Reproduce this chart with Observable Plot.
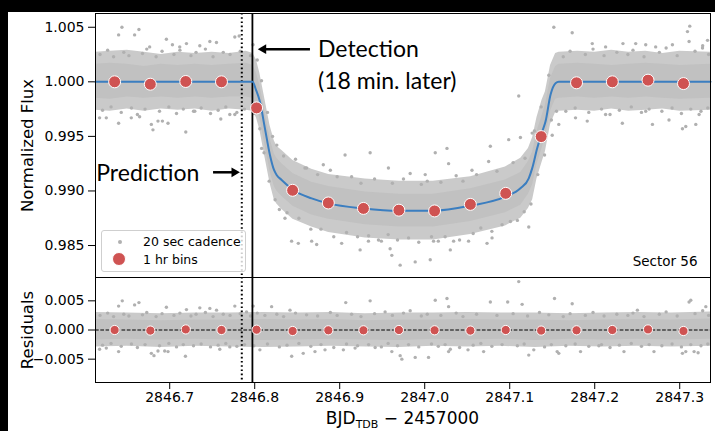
<!DOCTYPE html>
<html><head><meta charset="utf-8">
<script src="https://cdn.jsdelivr.net/npm/d3@7"></script>
<script src="https://cdn.jsdelivr.net/npm/@observablehq/plot@0.6"></script>
<style>
body{margin:0;background:#fff;}
#wrap{position:relative;width:715px;height:431px;overflow:hidden;background:#fff;font-family:"DejaVu Sans",sans-serif;color:#000;}
#wrap svg{position:absolute;left:0;overflow:visible;}
.bar-top{position:absolute;left:0;top:0;width:715px;height:12px;background:#000;z-index:5;}
.bar-left{position:absolute;left:0;top:0;width:8px;height:431px;background:#000;z-index:5;}
#xlabel{position:absolute;top:410px;left:95px;width:615px;text-align:center;font-size:17px;line-height:17px;white-space:nowrap;}
#xlabel span{font-size:11px;position:relative;top:4px;}
#legend{position:absolute;left:101px;top:230px;width:143px;height:40px;border:1px solid #cfcfcf;border-radius:3px;background:rgba(255,255,255,0.8);font-size:12.5px;z-index:3;}
#legend .m{position:absolute;border-radius:50%;}
#legend .t{position:absolute;left:41px;line-height:14px;white-space:nowrap;}
</style></head><body>
<div id="wrap">
  <div class="bar-top"></div><div class="bar-left"></div>
  <div id="xlabel">BJD<span>TDB</span> − 2457000</div>
  <div id="legend">
    <div class="m" style="left:16px;top:9px;width:4px;height:4px;background:#b0b0b0;"></div>
    <div class="t" style="top:4px;">20 sec cadence</div>
    <div class="m" style="left:11px;top:22px;width:12px;height:12px;background:#cf5352;border:1px solid #fff;margin:-1px;"></div>
    <div class="t" style="top:22px;">1 hr bins</div>
  </div>
</div>
<script>
// ---------- data ----------
const xTicks = [2846.7, 2846.8, 2846.9, 2847.0, 2847.1, 2847.2, 2847.3];
const fluxTicks = [0.985, 0.990, 0.995, 1.000, 1.005];
const residTicks = [-0.005, 0, 0.005];
const predictionTime = 2846.7848;
const detectionTime = 2846.7973;

// transit model (blue line)
const modelT = [2846.6127, 2846.7975, 2846.8014, 2846.8061, 2846.8120, 2846.8179, 2846.8226, 2846.8258, 2846.8317, 2846.8453, 2846.8670, 2846.8866, 2846.9279, 2846.9691, 2847.0104, 2847.0537, 2847.0949, 2847.1126, 2847.1224, 2847.1264, 2847.1323, 2847.1382, 2847.1421, 2847.1480, 2847.1539, 2847.1577, 2847.3362];
const modelF = [1.0, 1.0, 0.99929, 0.99819, 0.99574, 0.99330, 0.99195, 0.99147, 0.99101, 0.99009, 0.98932, 0.98886, 0.98840, 0.98819, 0.98819, 0.98865, 0.98948, 0.99024, 0.99116, 0.99207, 0.99391, 0.99544, 0.99636, 0.99881, 0.99987, 1.0, 1.0];

// 1 hr bins
const binT = [2846.6352, 2846.6772, 2846.7189, 2846.7609, 2846.8022, 2846.8446, 2846.8866, 2846.9279, 2846.9696, 2847.0116, 2847.0537, 2847.0953, 2847.1370, 2847.1786, 2847.2207, 2847.2627, 2847.3044];
const binF = [1.0000, 0.99978, 1.00003, 1.0000, 0.99761, 0.99006, 0.98890, 0.98840, 0.98824, 0.98817, 0.98877, 0.98978, 0.99498, 0.99991, 1.0000, 1.00015, 0.99984];
const binR = [0, -0.0001, 0.0001, 0, 0.00005, -0.00017, -0.00005, -0.00005, 0, -0.00005, -0.0001, 0, -0.0001, -0.00005, 0, 0.0001, -0.00017];

// extent of the 20 s cadence cloud, flux panel (inner dense core and outer fringe)
const cloudTopT   = [2846.6127, 2846.63, 2846.65, 2846.67, 2846.69, 2846.71, 2846.73, 2846.75, 2846.77, 2846.79, 2846.798, 2846.802, 2846.806, 2846.812, 2846.818, 2846.823, 2846.826, 2846.832, 2846.845, 2846.867, 2846.887, 2846.93, 2846.97, 2847.01, 2847.054, 2847.095, 2847.113, 2847.122, 2847.127, 2847.132, 2847.138, 2847.142, 2847.148, 2847.154, 2847.158, 2847.18, 2847.20, 2847.22, 2847.24, 2847.26, 2847.28, 2847.30, 2847.3362];
const innerTopLo  = [0.9985, 0.9984, 0.9986, 0.9985, 0.9986, 0.9985, 0.9986, 0.9985, 0.9986, 0.9986, 0.9985, 0.9978, 0.9967, 0.9942, 0.9918, 0.9904, 0.9900, 0.9895, 0.9886, 0.9878, 0.9874, 0.9869, 0.9867, 0.9867, 0.9872, 0.9880, 0.9887, 0.9897, 0.9906, 0.9924, 0.9939, 0.9949, 0.9973, 0.9984, 0.9985, 0.9986, 0.9985, 0.9986, 0.9985, 0.9986, 0.9985, 0.9984, 0.9985];
const innerTopHi  = [1.0016, 1.0017, 1.0016, 1.0014, 1.0016, 1.0015, 1.0016, 1.0015, 1.0016, 1.0017, 1.0015, 1.0008, 0.9997, 0.9972, 0.9948, 0.9934, 0.9930, 0.9925, 0.9916, 0.9908, 0.9904, 0.9899, 0.9897, 0.9897, 0.9902, 0.9910, 0.9917, 0.9927, 0.9936, 0.9954, 0.9969, 0.9979, 1.0003, 1.0014, 1.0016, 1.0017, 1.0016, 1.0015, 1.0016, 1.0017, 1.0016, 1.0015, 1.0016];
const outerTopLo  = [0.9974, 0.9973, 0.9975, 0.9973, 0.9975, 0.9974, 0.9975, 0.9973, 0.9975, 0.9974, 0.9973, 0.9967, 0.9956, 0.9931, 0.9907, 0.9892, 0.9888, 0.9883, 0.9874, 0.9867, 0.9862, 0.9857, 0.9855, 0.9855, 0.9860, 0.9868, 0.9875, 0.9884, 0.9892, 0.9911, 0.9926, 0.9936, 0.9961, 0.9972, 0.9973, 0.9974, 0.9973, 0.9975, 0.9973, 0.9974, 0.9975, 0.9973, 0.9974];
const outerTopHi  = [1.0027, 1.0028, 1.0029, 1.0027, 1.0025, 1.0027, 1.0026, 1.0027, 1.0026, 1.0028, 1.0026, 1.0020, 1.0008, 0.9984, 0.9960, 0.9946, 0.9941, 0.9937, 0.9928, 0.9920, 0.9915, 0.9911, 0.9909, 0.9909, 0.9913, 0.9922, 0.9930, 0.9939, 0.9949, 0.9967, 0.9983, 0.9991, 1.0015, 1.0026, 1.0027, 1.0028, 1.0027, 1.0029, 1.0027, 1.0028, 1.0026, 1.0028, 1.0027];

// extent of the residual cloud
const cloudResT   = [2846.6127, 2846.65, 2846.69, 2846.73, 2846.77, 2846.81, 2846.85, 2846.89, 2846.93, 2846.97, 2847.01, 2847.05, 2847.09, 2847.13, 2847.17, 2847.21, 2847.25, 2847.29, 2847.3362];
const innerResLo  = [-0.0017, -0.0016, -0.0017, -0.0016, -0.0017, -0.0018, -0.0017, -0.0016, -0.0017, -0.0018, -0.0016, -0.0017, -0.0016, -0.0018, -0.0016, -0.0017, -0.0016, -0.0017, -0.0016];
const innerResHi  = [0.0018, 0.0017, 0.0016, 0.0017, 0.0017, 0.0018, 0.0017, 0.0018, 0.0016, 0.0017, 0.0017, 0.0018, 0.0017, 0.0017, 0.0016, 0.0017, 0.0018, 0.0017, 0.0019];
const outerResLo  = [-0.0029, -0.0028, -0.0030, -0.0028, -0.0029, -0.0030, -0.0029, -0.0028, -0.0029, -0.0030, -0.0028, -0.0029, -0.0028, -0.0030, -0.0028, -0.0029, -0.0028, -0.0029, -0.0028];
const outerResHi  = [0.0030, 0.0029, 0.0028, 0.0029, 0.0029, 0.0030, 0.0029, 0.0030, 0.0028, 0.0029, 0.0029, 0.0030, 0.0029, 0.0029, 0.0028, 0.0029, 0.0030, 0.0029, 0.0031];

// individual 20 s points (flux panel)
const topPoints = [
 [2846.618,1.0025],[2846.627,1.0029],[2846.634,1.0023],[2846.646,1.0027],[2846.652,1.0024],[2846.668,1.0026],[2846.673,1.0030],[2846.684,1.0023],[2846.691,1.0028],[2846.705,1.0025],[2846.712,1.0029],[2846.725,1.0024],[2846.731,1.0027],[2846.742,1.0030],[2846.751,1.0023],[2846.763,1.0027],[2846.771,1.0025],[2846.783,1.0028],[2846.795,1.0024],
 [2846.621,0.9974],[2846.631,0.9977],[2846.643,0.9972],[2846.655,0.9976],[2846.662,0.9970],[2846.671,0.9975],[2846.688,0.9973],[2846.699,0.9977],[2846.708,0.9971],[2846.716,0.9975],[2846.728,0.9973],[2846.737,0.9976],[2846.748,0.9971],[2846.757,0.9974],[2846.766,0.9977],[2846.779,0.9972],[2846.788,0.9975],
 [2846.803,1.0020],[2846.808,1.0001],[2846.815,0.9972],[2846.821,0.9950],[2846.826,0.9942],[2846.834,0.9932],[2846.848,0.9929],[2846.861,0.9921],[2846.874,0.9915],[2846.889,0.9919],[2846.897,0.9913],[2846.914,0.9913],[2846.925,0.9907],[2846.941,0.9911],[2846.962,0.9907],[2846.975,0.9911],[2846.996,0.9906],[2847.003,0.9909],[2847.019,0.9908],[2847.037,0.9914],[2847.045,0.9909],[2847.061,0.9915],[2847.085,0.9918],[2847.104,0.9926],[2847.118,0.9930],[2847.129,0.9955],[2847.137,0.9977],[2847.146,1.0006],
 [2846.799,0.9971],[2846.806,0.9957],[2846.811,0.9935],[2846.817,0.9909],[2846.824,0.9892],[2846.829,0.9883],[2846.838,0.9880],[2846.852,0.9875],[2846.866,0.9865],[2846.878,0.9865],[2846.893,0.9858],[2846.908,0.9862],[2846.921,0.9858],[2846.934,0.9859],[2846.949,0.9854],[2846.957,0.9860],[2846.968,0.9855],[2846.981,0.9857],[2846.993,0.9853],[2847.008,0.9858],[2847.016,0.9854],[2847.024,0.9858],[2847.041,0.9855],[2847.057,0.9861],[2847.066,0.9866],[2847.079,0.9863],[2847.091,0.9869],[2847.109,0.9873],[2847.117,0.9881],[2847.125,0.9888],[2847.133,0.9915],[2847.141,0.9933],[2847.149,0.9965],[2847.155,0.9973],
 [2847.163,1.0023],[2847.171,1.0028],[2847.189,1.0025],[2847.198,1.0030],[2847.211,1.0024],[2847.226,1.0027],[2847.239,1.0025],[2847.245,1.0029],[2847.258,1.0023],[2847.276,1.0027],[2847.284,1.0031],[2847.297,1.0024],[2847.318,1.0028],[2847.327,1.0033],[2847.334,1.0025],
 [2847.166,0.9973],[2847.177,0.9976],[2847.193,0.9972],[2847.208,0.9975],[2847.218,0.9970],[2847.229,0.9974],[2847.243,0.9977],[2847.255,0.9972],[2847.264,0.9975],[2847.279,0.9973],[2847.291,0.9976],[2847.302,0.9971],[2847.313,0.9975],[2847.325,0.9973],[2847.333,0.9976],
 [2846.6438,1.0050],[2846.6638,1.0048],[2846.6399,1.0043],[2846.6587,1.0043],[2846.6764,1.0032],[2846.6961,1.0039],[2846.7032,1.0034],[2846.7118,1.0032],[2846.7197,1.0035],[2846.7354,1.0033],[2846.7472,1.0037],[2846.7550,1.0036],[2846.7766,1.0041],[2846.7817,1.0042],[2846.7980,1.0034],
 [2846.6175,0.9967],[2846.6254,0.9967],[2846.6399,0.9962],[2846.6548,0.9967],[2846.6646,0.9968],[2846.6784,0.9961],[2846.6803,0.9956],[2846.6862,0.9964],[2846.6914,0.9964],[2846.6980,0.9962],[2846.7189,0.9954],[2846.7295,0.9973],[2846.7601,0.9966],[2846.7707,0.9970],[2846.7766,0.9970],
 [2846.8081,0.9939],[2846.8356,0.9875],[2846.8434,0.9854],[2846.8513,0.9852],[2846.8670,0.9854],[2846.8729,0.9851],[2846.9023,0.9852],[2846.9240,0.9846],[2846.9338,0.9854],[2846.9456,0.9855],[2846.9593,0.9847],[2846.9613,0.9841],[2846.9711,0.9832],[2846.9888,0.9835],[2847.0065,0.9837],[2847.0301,0.9846],[2847.0340,0.9854],[2847.0516,0.9854],[2847.0733,0.9852],[2847.0792,0.9857],[2847.1224,0.9867],[2847.1008,0.9872],[2847.0104,0.9854],
 [2846.9063,0.9933],[2846.9358,0.9935],[2846.8807,0.9924],[2846.9573,0.9921],[2846.8591,0.9921],[2847.0124,0.9935],[2847.0262,0.9939],[2847.0772,0.9941],[2847.0988,0.9947],[2847.1126,0.9949],[2847.1264,0.9953],[2847.1500,0.9951],[2846.9829,0.9916],[2847.0006,0.9915],[2847.0281,0.9925],[2847.0556,0.9919],[2847.0752,0.9927],[2847.1106,0.9987],
 [2847.1519,1.0050],[2847.1735,1.0045],[2847.1971,1.0035],[2847.2128,1.0032],[2847.2332,1.0035],[2847.2482,1.0035],[2847.2600,1.0034],[2847.2717,1.0032],[2847.2914,1.0034],[2847.3118,1.0051],[2847.3091,1.0046],[2847.3110,1.0037],[2847.3327,1.0038],[2847.3268,1.0031],
 [2847.1577,0.9961],[2847.1774,0.9967],[2847.1912,0.9964],[2847.2128,0.9970],[2847.2325,0.9962],[2847.2679,0.9961],[2847.2874,0.9965],[2847.3032,0.9957],[2847.3071,0.9959],[2847.3189,0.9961],[2847.3228,0.9970],[2847.2600,0.9973]
];

// individual 20 s points (residual panel)
const residPoints = [
 [2846.618,0.0025],[2846.627,0.0029],[2846.634,0.0023],[2846.646,0.0027],[2846.652,0.0024],[2846.668,0.0026],[2846.673,0.0030],[2846.684,0.0023],[2846.691,0.0028],[2846.705,0.0025],[2846.712,0.0029],[2846.725,0.0024],[2846.731,0.0027],[2846.742,0.0030],[2846.751,0.0023],[2846.763,0.0027],[2846.771,0.0025],[2846.783,0.0028],[2846.795,0.0024],[2846.803,0.0029],[2846.812,0.0025],[2846.826,0.0027],[2846.834,0.0023],[2846.848,0.0029],[2846.861,0.0026],[2846.874,0.0024],[2846.889,0.0030],[2846.897,0.0025],[2846.914,0.0027],[2846.925,0.0023],[2846.941,0.0028],[2846.962,0.0025],[2846.975,0.0029],[2846.996,0.0024],[2847.003,0.0027],[2847.019,0.0025],[2847.037,0.0029],[2847.045,0.0023],[2847.061,0.0027],[2847.085,0.0025],[2847.104,0.0028],[2847.121,0.0024],[2847.135,0.0030],[2847.146,0.0026],[2847.163,0.0023],[2847.171,0.0028],[2847.189,0.0025],[2847.198,0.0030],[2847.211,0.0024],[2847.226,0.0027],[2847.239,0.0025],[2847.245,0.0029],[2847.258,0.0023],[2847.276,0.0027],[2847.284,0.0031],[2847.297,0.0024],[2847.318,0.0028],[2847.327,0.0033],[2847.334,0.0025],
 [2846.621,-0.0026],[2846.631,-0.0023],[2846.643,-0.0028],[2846.655,-0.0024],[2846.662,-0.0030],[2846.671,-0.0025],[2846.688,-0.0027],[2846.699,-0.0023],[2846.708,-0.0029],[2846.716,-0.0025],[2846.728,-0.0027],[2846.737,-0.0024],[2846.748,-0.0029],[2846.757,-0.0026],[2846.766,-0.0023],[2846.779,-0.0028],[2846.788,-0.0025],[2846.799,-0.0027],[2846.815,-0.0024],[2846.829,-0.0029],[2846.838,-0.0026],[2846.852,-0.0023],[2846.866,-0.0028],[2846.878,-0.0025],[2846.893,-0.0030],[2846.908,-0.0024],[2846.921,-0.0027],[2846.934,-0.0025],[2846.949,-0.0029],[2846.957,-0.0023],[2846.968,-0.0027],[2846.981,-0.0025],[2846.993,-0.0029],[2847.008,-0.0024],[2847.016,-0.0028],[2847.024,-0.0025],[2847.041,-0.0030],[2847.057,-0.0026],[2847.066,-0.0023],[2847.079,-0.0028],[2847.091,-0.0025],[2847.109,-0.0027],[2847.117,-0.0024],[2847.141,-0.0029],[2847.149,-0.0025],[2847.166,-0.0027],[2847.177,-0.0024],[2847.193,-0.0028],[2847.208,-0.0025],[2847.218,-0.0030],[2847.229,-0.0026],[2847.243,-0.0023],[2847.255,-0.0028],[2847.264,-0.0025],[2847.279,-0.0027],[2847.291,-0.0024],[2847.302,-0.0029],[2847.313,-0.0025],[2847.325,-0.0027],[2847.333,-0.0024],
 [2846.6442,0.0050],[2846.6638,0.0047],[2846.6399,0.0041],[2846.6587,0.0043],[2846.6961,0.0039],[2846.7197,0.0035],[2846.7354,0.0038],[2846.7472,0.0037],[2846.7551,0.0034],[2846.7766,0.0041],[2846.7904,0.0031],[2846.7982,0.0041],[2846.8199,0.0040],[2846.8415,0.0034],[2846.9071,0.0047],[2846.9358,0.0050],[2846.9534,0.0031],[2846.9829,0.0033],[2847.0124,0.0051],[2847.0262,0.0054],[2847.0281,0.0040],[2847.0772,0.0048],[2847.0976,0.0048],[2847.1106,0.0083],[2847.1146,0.0044],[2847.1527,0.0054],[2847.1735,0.0045],[2847.2502,0.0034],[2847.3110,0.0048],[2847.3130,0.0051],[2847.3307,0.0040],
 [2846.6175,-0.0033],[2846.6254,-0.0031],[2846.6399,-0.0037],[2846.6784,-0.0040],[2846.6815,-0.0044],[2846.6862,-0.0036],[2846.6941,-0.0036],[2846.6980,-0.0037],[2846.7185,-0.0045],[2846.7589,-0.0033],[2846.7707,-0.0029],[2846.8061,-0.0034],[2846.8435,-0.0045],[2846.8571,-0.0040],[2846.8709,-0.0037],[2846.8827,-0.0034],[2846.9043,-0.0034],[2846.9181,-0.0031],[2846.9417,-0.0030],[2846.9613,-0.0037],[2846.9711,-0.0044],[2846.9731,-0.0050],[2846.9888,-0.0047],[2847.0045,-0.0047],[2847.0281,-0.0037],[2847.0301,-0.0033],[2847.0509,-0.0034],[2847.0693,-0.0037],[2847.1224,-0.0043],[2847.1283,-0.0034],[2847.1558,-0.0037],[2847.1577,-0.0040],[2847.1833,-0.0037],[2847.2049,-0.0027],[2847.2344,-0.0037],[2847.2697,-0.0037],[2847.3032,-0.0040],[2847.3071,-0.0037],[2847.3169,-0.0037],[2847.3216,-0.0039]
];

// annotations (data coordinates)
const annotTexts = [
  {t: 2846.8745, f: 1.00296, label: "Detection"},
  {t: 2846.8745, f: 1.00003, label: "(18 min. later)"},
  {t: 2846.6136, f: 0.99162, label: "Prediction"}
];
const annotArrows = [
  {t1: 2846.8650, t2: 2846.8102, f: 1.00299, rot: -90},
  {t1: 2846.7510, t2: 2846.7760, f: 0.99171, rot: 90}
];

// ---------- build ----------
const xDomain = [2846.6127, 2847.3362];
const model = modelT.map((t, i) => ({t, f: modelF[i]}));
const bins = binT.map((t, i) => ({t, f: binF[i], r: binR[i]}));
const cloudTop = cloudTopT.map((t, i) => ({t, ilo: innerTopLo[i], ihi: innerTopHi[i], olo: outerTopLo[i], ohi: outerTopHi[i]}));
const cloudRes = cloudResT.map((t, i) => ({t, ilo: innerResLo[i], ihi: innerResHi[i], olo: outerResLo[i], ohi: outerResHi[i]}));
const gray = "#b0b0b0", innerFill = "#c1c1c1", outerFill = "#cacaca", red = "#cf5352", blue = "#3b7ec0";
const fontFam = "DejaVu Sans, sans-serif";

const topPlot = Plot.plot({
  width: 715, height: 277, marginTop: 13, marginBottom: 0, marginLeft: 95, marginRight: 5,
  style: {fontFamily: fontFam, fontSize: "14px", color: "#000", background: "transparent", overflow: "visible"},
  x: {domain: xDomain, axis: null},
  y: {domain: [0.98207, 1.00626], ticks: fluxTicks, tickFormat: d3.format(".3f"), tickSize: 7, tickPadding: 4, label: null},
  marks: [
    Plot.areaY(cloudTop, {x: "t", y1: "olo", y2: "ohi", fill: outerFill}),
    Plot.areaY(cloudTop, {x: "t", y1: "ilo", y2: "ihi", fill: innerFill}),
    Plot.dot(topPoints, {x: d => d[0], y: d => d[1], r: 1.7, fill: gray}),
    Plot.ruleX([predictionTime], {stroke: "#000", strokeWidth: 2, strokeDasharray: "1.6,2.6"}),
    Plot.ruleX([detectionTime], {stroke: "#000", strokeWidth: 1.8}),
    Plot.line(model, {x: "t", y: "f", stroke: blue, strokeWidth: 2, curve: "monotone-x"}),
    Plot.dot(bins, {x: "t", y: "f", r: 6, fill: red, stroke: "#fff", strokeWidth: 1}),
    Plot.frame({stroke: "#000", strokeWidth: 1}),
    Plot.link(annotArrows, {x1: "t1", x2: "t2", y1: "f", y2: "f", stroke: "#000", strokeWidth: 2.5}),
    Plot.dot(annotArrows, {x: "t2", y: "f", symbol: "triangle", r: 3.6, fill: "#000", rotate: "rot"}),
    Plot.text(annotTexts, {x: "t", y: "f", text: "label", textAnchor: "start", lineAnchor: "middle", fontSize: 23, fontFamily: "Lato, Carlito, sans-serif", fill: "#000"}),
    Plot.text(["Sector 56"], {frameAnchor: "bottom-right", dx: -13, dy: -16, textAnchor: "end", lineAnchor: "middle", fontSize: 13.5, fill: "#000"}),
    Plot.text(["Normalized Flux"], {frameAnchor: "left", dx: -68, rotate: -90, textAnchor: "middle", lineAnchor: "middle", fontSize: 16.5, fill: "#000"})
  ]
});
topPlot.style.top = "0px";

const botPlot = Plot.plot({
  width: 715, height: 154, marginTop: 0, marginBottom: 49, marginLeft: 95, marginRight: 5,
  style: {fontFamily: fontFam, fontSize: "14px", color: "#000", background: "transparent", overflow: "visible"},
  x: {domain: xDomain, ticks: xTicks, tickFormat: d3.format(".1f"), tickSize: 7, tickPadding: 3, label: null},
  y: {domain: [-0.009, 0.009], ticks: residTicks, tickFormat: d3.format(".3f"), tickSize: 7, tickPadding: 4, label: null},
  marks: [
    Plot.areaY(cloudRes, {x: "t", y1: "olo", y2: "ohi", fill: outerFill}),
    Plot.areaY(cloudRes, {x: "t", y1: "ilo", y2: "ihi", fill: innerFill}),
    Plot.dot(residPoints, {x: d => d[0], y: d => d[1], r: 1.7, fill: gray}),
    Plot.ruleY([0], {stroke: "#000", strokeWidth: 1, strokeDasharray: "3.7,1.6"}),
    Plot.ruleX([predictionTime], {stroke: "#000", strokeWidth: 2, strokeDasharray: "1.6,2.6"}),
    Plot.ruleX([detectionTime], {stroke: "#000", strokeWidth: 1.8}),
    Plot.dot(bins, {x: "t", y: "r", r: 4.6, fill: red, stroke: "#fff", strokeWidth: 1}),
    Plot.frame({stroke: "#000", strokeWidth: 1}),
    Plot.text(["Residuals"], {frameAnchor: "left", dx: -68, rotate: -90, textAnchor: "middle", lineAnchor: "middle", fontSize: 16.5, fill: "#000"})
  ]
});
botPlot.style.top = "277px";

const wrap = document.getElementById("wrap");
wrap.insertBefore(botPlot, wrap.firstChild);
wrap.insertBefore(topPlot, wrap.firstChild);
</script>
</body></html>
